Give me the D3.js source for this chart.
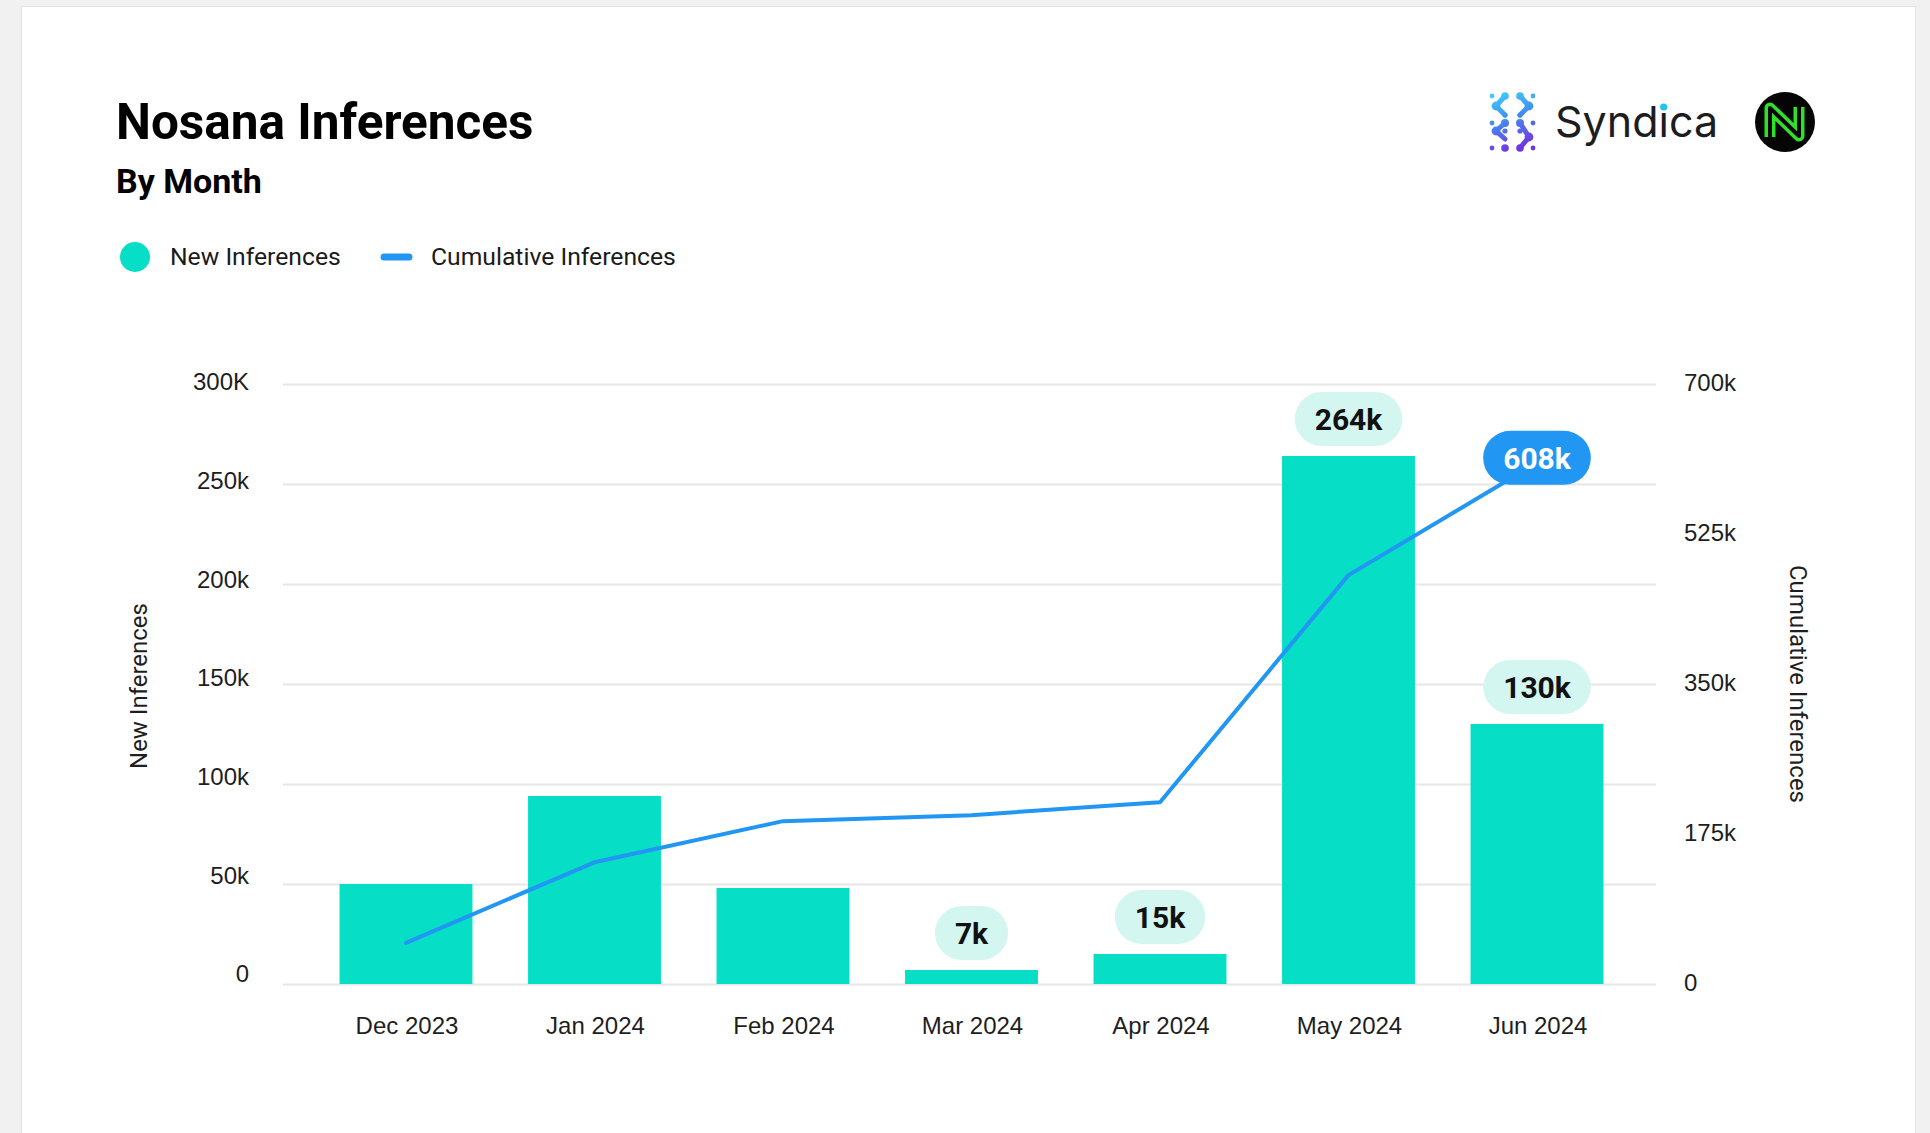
<!DOCTYPE html>
<html><head><meta charset="utf-8">
<script src="https://cdn.jsdelivr.net/npm/d3@7"></script>
<style>html,body{margin:0;padding:0;background:#f1f1f1;} svg{display:block}</style>
</head><body>
<svg id="c" width="1930" height="1133"></svg>
<script>
const months = ["Dec 2023","Jan 2024","Feb 2024","Mar 2024","Apr 2024","May 2024","Jun 2024"];
const newInferences = [50000, 94000, 48000, 7000, 15000, 264000, 130000];
const cumulativeInferences = [48000, 142000, 190000, 197000, 212000, 477000, 608000];
const barLabels = ["", "", "", "7k", "15k", "264k", "130k"];
const lineLabels = ["", "", "", "", "", "", "608k"];
const leftTicks = [0, 50000, 100000, 150000, 200000, 250000, 300000];
const leftTickLabels = ["0","50k","100k","150k","200k","250k","300K"];
const rightTicks = [0, 175000, 350000, 525000, 700000];
const rightTickLabels = ["0","175k","350k","525k","700k"];

const BAR = "#06dfc6", LINE = "#2196f3", PILL = "#d3f6f1";
const svg = d3.select("#c");

// page / card
svg.append("rect").attr("x",0).attr("y",0).attr("width",1930).attr("height",1133).attr("fill","#f1f1f1");
svg.append("rect").attr("x",21.5).attr("y",6.5).attr("width",1894).attr("height",1200)
  .attr("fill","#fff").attr("stroke","#e4e4e4").attr("stroke-width",1);

// scales
const x = d3.scaleBand().domain(months).range([283,1660]).paddingInner(0.295).paddingOuter(0.3);
const yL = d3.scaleLinear().domain([0,300000]).range([984,384]);
const yLabel = yL.copy().range([974,382]);
const yR = d3.scaleLinear().domain([0,700000]).range([984,384]);
const bw = x.bandwidth();

// gridlines
const grid = svg.append("g").attr("transform","translate(283,0)")
  .call(d3.axisLeft(yL).tickValues(leftTicks).tickSize(-1373).tickFormat(""));
grid.select(".domain").remove();
grid.selectAll("line").attr("stroke","#e6e6e6").attr("stroke-width",2);

// left tick labels
const la = svg.append("g").attr("transform","translate(249,0)")
  .call(d3.axisLeft(yLabel).tickValues(leftTicks).tickSize(0).tickPadding(0).tickFormat((d,i)=>leftTickLabels[i]));
la.select(".domain").remove();
la.selectAll("text").attr("font-family","'Liberation Sans', Arial, sans-serif").attr("font-size",24).attr("fill","#1e1e1e");

// right tick labels
const ra = svg.append("g").attr("transform","translate(1684,-1)")
  .call(d3.axisRight(yR).tickValues(rightTicks).tickSize(0).tickPadding(0).tickFormat((d,i)=>rightTickLabels[i]));
ra.select(".domain").remove();
ra.selectAll("text").attr("font-family","'Liberation Sans', Arial, sans-serif").attr("font-size",24).attr("fill","#1e1e1e");

// x labels
const xa = svg.append("g").attr("transform","translate(1,1017)")
  .call(d3.axisBottom(x).tickSize(0).tickPadding(0));
xa.select(".domain").remove();
xa.selectAll("text").attr("font-family","'Liberation Sans', Arial, sans-serif").attr("font-size",24).attr("fill","#1e1e1e");

// bars
svg.append("g").selectAll("rect").data(months).join("rect")
  .attr("x",d=>x(d)).attr("width",bw)
  .attr("y",(d,i)=>yL(newInferences[i])).attr("height",(d,i)=>yL(0)-yL(newInferences[i]))
  .attr("fill",BAR);

// cumulative line
const line = d3.line().x(d=>x(d.m)+bw/2).y(d=>yR(d.v));
svg.append("path").datum(months.map((m,i)=>({m, v:cumulativeInferences[i]})))
  .attr("d",line).attr("fill","none").attr("stroke",LINE).attr("stroke-width",4)
  .attr("stroke-linejoin","round").attr("stroke-linecap","round");

// pills
function pill(cx, cy, label, bg, fg){
  const g = svg.append("g").attr("transform",`translate(${cx},${cy})`);
  const r = g.append("rect");
  const t = g.append("text").text(label).attr("text-anchor","middle").attr("dy","0.36em")
    .attr("font-family","Roboto, sans-serif").attr("font-weight",700).attr("font-size",30).attr("fill",fg);
  const w = t.node().getComputedTextLength() + 40;
  r.attr("x",-w/2).attr("y",-27).attr("width",w).attr("height",54).attr("rx",27).attr("fill",bg);
}
months.forEach((m,i)=>{
  if(barLabels[i]) pill(x(m)+bw/2, yL(newInferences[i]) - 37, barLabels[i], PILL, "#111");
});
months.forEach((m,i)=>{
  if(lineLabels[i]) pill(x(m)+bw/2, yR(cumulativeInferences[i]) - 5, lineLabels[i], LINE, "#fff");
});

// axis titles
svg.append("text").text("New Inferences").attr("transform","translate(147,686) rotate(-90)")
  .attr("text-anchor","middle").attr("font-family","Roboto, sans-serif").attr("font-size",24).attr("fill","#1e1e1e");
svg.append("text").text("Cumulative Inferences").attr("transform","translate(1790,684) rotate(90)")
  .attr("text-anchor","middle").attr("font-family","Roboto, sans-serif").attr("font-size",24).attr("fill","#1e1e1e");

// title
svg.append("text").text("Nosana Inferences").attr("x",116).attr("y",139)
  .attr("font-family","Roboto, sans-serif").attr("font-weight",700).attr("font-size",49.5).attr("fill","#000");
svg.append("text").text("By Month").attr("x",116).attr("y",193)
  .attr("font-family","Roboto, sans-serif").attr("font-weight",700).attr("font-size",34).attr("fill","#000");

// legend
svg.append("circle").attr("cx",135).attr("cy",257).attr("r",15).attr("fill",BAR);
svg.append("text").text("New Inferences").attr("x",170).attr("y",265)
  .attr("font-family","Roboto, sans-serif").attr("font-size",24.7).attr("fill","#1a1a1a");
svg.append("line").attr("x1",384).attr("x2",409).attr("y1",257).attr("y2",257)
  .attr("stroke",LINE).attr("stroke-width",7).attr("stroke-linecap","round");
svg.append("text").text("Cumulative Inferences").attr("x",431).attr("y",265)
  .attr("font-family","Roboto, sans-serif").attr("font-size",24.7).attr("fill","#1a1a1a");

// Syndica logo
const defs = svg.append("defs");
const gr = defs.append("linearGradient").attr("id","sg").attr("gradientUnits","userSpaceOnUse")
  .attr("x1",0).attr("y1",0).attr("x2",20).attr("y2",58);
gr.append("stop").attr("offset","0").attr("stop-color","#3fd3f7");
gr.append("stop").attr("offset","0.45").attr("stop-color","#3f93f1");
gr.append("stop").attr("offset","1").attr("stop-color","#7134e0");
const sg = svg.append("g").attr("transform","translate(1490,93)").attr("fill","url(#sg)").attr("stroke","url(#sg)");
const dots = [[2,3,2.4],[15,3,3.8],[30,3,3.8],[43,3,2.4],
              [6,13,4.4],[39,13,4.4],
              [15,22,2.6],[30,22,2.6],
              [2,30,2.4],[15,30,4],[30,30,4],[43,30,2.4],
              [6,38,4.4],[39,44,4.4],
              [15,38,2.6],[30,38,2.6],
              [2,55,2.4],[15,55,3.8],[30,55,3.8],[43,55,2.4]];
const links = [[15,3,6,13],[6,13,15,22],[30,3,39,13],[39,13,30,22],[15,30,6,38],[30,30,39,44],[39,44,30,55],[6,38,15,46]];
sg.selectAll("line").data(links).join("line").attr("x1",d=>d[0]).attr("y1",d=>d[1]).attr("x2",d=>d[2]).attr("y2",d=>d[3])
  .attr("stroke-width",5).attr("stroke-linecap","round");
sg.selectAll("circle").data(dots).join("circle").attr("cx",d=>d[0]).attr("cy",d=>d[1]).attr("r",d=>d[2]).attr("stroke","none");
const st = svg.append("text").text("Syndica").attr("x",1555).attr("y",137)
  .attr("font-family","Inter, sans-serif").attr("font-size",43).attr("fill","#1d1d1f");
try{
  const ext = st.node().getExtentOfChar(4);
  svg.append("circle").attr("cx",ext.x+ext.width/2).attr("cy",137-30).attr("r",3.6).attr("fill","#21c4f0");
}catch(e){}

// Nosana logo
const ng = svg.append("g").attr("transform","translate(1785,122)");
ng.append("circle").attr("r",30).attr("fill","#050505");
const np = "M-15,15 L-15,-14 L14,14 L14,-15";
ng.append("path").attr("d",np).attr("fill","none").attr("stroke","#2fe02a").attr("stroke-width",11).attr("stroke-linejoin","round");
ng.append("path").attr("d",np).attr("fill","none").attr("stroke","#050505").attr("stroke-width",4).attr("stroke-linejoin","round");
</script>
</body></html>
